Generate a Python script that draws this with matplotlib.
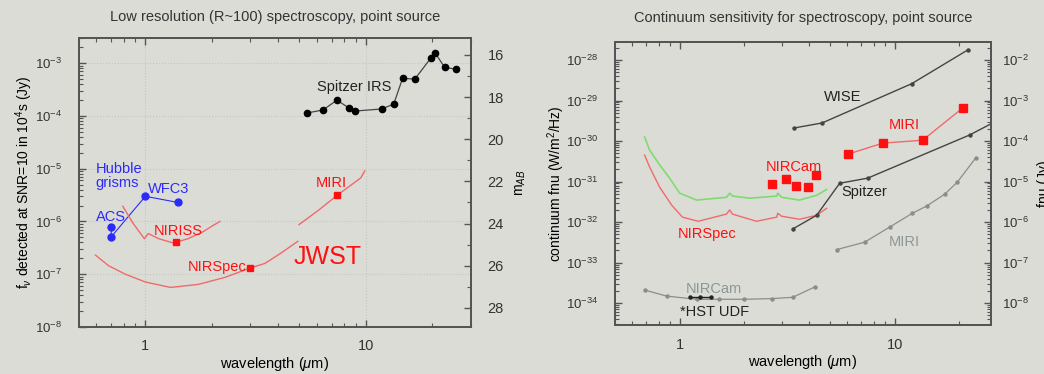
import numpy as np
import matplotlib
matplotlib.use("Agg")
import matplotlib.pyplot as plt
from matplotlib.ticker import LogLocator, MultipleLocator, NullFormatter

# --- DATA: left panel (fnu in Jy vs wavelength in micron) ---
irs_wl = [5.4, 6.4, 7.4, 8.4, 8.9, 11.8, 13.4, 14.7, 16.7, 19.7, 20.7, 22.8, 25.8]
irs_f = [1.14e-4, 1.30e-4, 2.0e-4, 1.42e-4, 1.24e-4, 1.36e-4, 1.68e-4,
         5.2e-4, 5.0e-4, 1.24e-3, 1.55e-3, 8.4e-4, 7.7e-4]

hst_wl = [0.7, 0.7, 1.0, 1.4]
hst_f = [8.0e-7, 5.1e-7, 3.0e-6, 2.3e-6]

nirspec_wl = [0.594, 0.68, 0.81, 1.0, 1.30, 1.74, 2.30, 2.98, 3.49, 4.12, 4.92]
nirspec_f = [2.3e-7, 1.45e-7, 1.0e-7, 7.1e-8, 5.6e-8, 6.4e-8, 8.7e-8,
             1.3e-7, 1.6e-7, 2.5e-7, 4.2e-7]

miri_wl = [4.98, 6.07, 7.47, 9.5, 9.9]
miri_f = [8.7e-7, 1.6e-6, 3.2e-6, 6.7e-6, 9.1e-6]

niriss_wl = [0.79, 0.88, 0.99, 1.03, 1.15, 1.34, 1.56, 1.83, 2.03, 2.18]
niriss_f = [1.94e-6, 9.2e-7, 4.7e-7, 5.9e-7, 4.7e-7, 3.9e-7, 4.7e-7,
            6.4e-7, 8.4e-7, 1.0e-6]

jwst_pts_wl = [1.38, 3.0, 7.4]
jwst_pts_f = [4.1e-7, 1.3e-7, 3.2e-6]

# --- DATA: right panel (fnu in W/m2/Hz) ---
wise_wl = [3.4, 4.6, 12.0, 22.0]
wise_f = [2.1e-30, 2.8e-30, 2.6e-29, 1.8e-28]

miri_phot_wl = [6.1, 8.8, 13.5, 20.7]
miri_phot_f = [4.8e-31, 8.9e-31, 1.05e-30, 6.5e-30]

nircam_phot_wl = [2.68, 3.11, 3.46, 3.94, 4.29]
nircam_phot_f = [8.7e-32, 1.15e-31, 7.7e-32, 7.3e-32, 1.45e-31]

green_wl = [0.687, 0.725, 0.807, 0.898, 1.0, 1.2, 1.65, 1.71, 1.76, 2.12,
            2.83, 2.86, 2.98, 3.61, 4.34, 4.83]
green_f = [1.26e-30, 6.0e-31, 2.6e-31, 1.22e-31, 5.2e-32, 3.5e-32, 4.1e-32,
           5.2e-32, 4.4e-32, 3.9e-32, 4.4e-32, 5.2e-32, 4.1e-32, 3.5e-32,
           4.6e-32, 6.4e-32]

nirspec2_wl = [0.687, 0.725, 0.807, 0.92, 1.03, 1.22, 1.65, 1.71, 1.76, 2.28,
               2.83, 2.86, 2.98, 3.61, 4.34, 4.83]
nirspec2_f = [4.5e-31, 2.3e-31, 7.3e-32, 2.6e-32, 1.33e-32, 1.05e-32, 1.58e-32,
              2.0e-32, 1.58e-32, 1.05e-32, 1.33e-32, 1.66e-32, 1.4e-32,
              1.18e-32, 1.48e-32, 2.2e-32]

spitzer_wl = [3.36, 4.34, 5.55, 7.5, 22.3, 30.0]
spitzer_f = [6.8e-33, 1.48e-32, 9.1e-32, 1.22e-31, 1.41e-30, 3.2e-30]

miri_spec_wl = [5.37, 7.25, 9.5, 12.1, 14.1, 17.1, 19.6, 23.8]
miri_spec_f = [2.1e-33, 3.2e-33, 7.6e-33, 1.66e-32, 2.5e-32, 4.9e-32, 9.8e-32, 3.8e-31]

nircam_wl = [0.69, 0.87, 1.2, 1.53, 2.0, 2.7, 3.36, 4.24]
nircam_f = [2.1e-34, 1.5e-34, 1.25e-34, 1.25e-34, 1.25e-34, 1.3e-34, 1.4e-34, 2.5e-34]

udf_wl = [1.12, 1.25, 1.4]
udf_f = [1.45e-34, 1.45e-34, 1.45e-34]

# --- STYLE ---
bg = '#dcdcd7'
plt.rcParams['font.family'] = ['Liberation Sans', 'DejaVu Sans']
plt.rcParams['mathtext.fontset'] = 'custom'
plt.rcParams['mathtext.rm'] = 'Liberation Sans'
plt.rcParams['mathtext.it'] = 'Liberation Sans:italic'
plt.rcParams['font.size'] = 10
plt.rcParams['axes.edgecolor'] = '#555555'
plt.rcParams['text.color'] = '#333333'
plt.rcParams['xtick.color'] = '#555555'
plt.rcParams['ytick.color'] = '#555555'
plt.rcParams['xtick.labelcolor'] = '#333333'
plt.rcParams['ytick.labelcolor'] = '#333333'

fig = plt.figure(figsize=(10.44, 3.74), dpi=100, facecolor=bg)
ax1 = fig.add_axes([0.0757, 0.126, 0.3753, 0.772], facecolor=bg)
ax2 = fig.add_axes([0.589, 0.131, 0.360, 0.757], facecolor=bg)

red_line = '#f06a6a'
red = '#ff1010'
blue = '#2a2aff'


def style_log(ax, ylo, yhi, xlo, xhi):
    ax.set_xscale('log')
    ax.set_yscale('log')
    ax.set_xlim(xlo, xhi)
    ax.set_ylim(ylo, yhi)
    ax.yaxis.set_major_locator(LogLocator(base=10, numticks=20))
    ax.yaxis.set_minor_locator(LogLocator(base=10, subs=np.arange(2, 10), numticks=20))
    ax.yaxis.set_minor_formatter(NullFormatter())
    ax.xaxis.set_minor_formatter(NullFormatter())
    ax.tick_params(which='both', direction='in', top=True, right=False)
    ax.tick_params(which='major', length=5, width=1)
    ax.tick_params(which='minor', length=3, width=0.8)
    ax.tick_params(axis='y', pad=12, labelsize=9.5)
    ax.tick_params(axis='x', pad=9, labelsize=10.5)
    for s in ax.spines.values():
        s.set_linewidth(1.4)


# ---------------- LEFT PANEL ----------------
style_log(ax1, 1e-8, 3e-3, 0.5, 30)
ax1.set_xticks([1, 10])
ax1.set_xticklabels(['1', '10'])
ax1.grid(which='major', color='#c4c4c0', linestyle=':', linewidth=0.8)

ax1.plot(irs_wl, irs_f, '-', color='#444444', lw=0.9, marker='o', ms=4.5,
         mfc='black', mec='black')
ax1.plot(hst_wl, hst_f, '-', color=blue, lw=0.8, marker='o', ms=5, mfc=blue, mec=blue)
ax1.plot(nirspec_wl, nirspec_f, '-', color=red_line, lw=1.0)
ax1.plot(miri_wl, miri_f, '-', color=red_line, lw=1.0)
ax1.plot(niriss_wl, niriss_f, '-', color=red_line, lw=1.0)
ax1.plot(jwst_pts_wl, jwst_pts_f, 's', color=red, ms=5, ls='none')

ax1.text(8.83, 3.6e-4, 'Spitzer IRS', ha='center', va='center', fontsize=10.5, color='#222222')
ax1.text(0.594, 7.2e-6, 'Hubble\ngrisms', ha='left', va='center', fontsize=10.5,
         color=blue, linespacing=1.0)
ax1.text(1.03, 4.2e-6, 'WFC3', ha='left', va='center', fontsize=10.5, color=blue)
ax1.text(0.594, 1.19e-6, 'ACS', ha='left', va='center', fontsize=10.5, color=blue)
ax1.text(1.41, 6.7e-7, 'NIRISS', ha='center', va='center', fontsize=10.5, color=red)
ax1.text(2.87, 1.39e-7, 'NIRSpec', ha='right', va='center', fontsize=10.5, color=red)
ax1.text(6.95, 5.3e-6, 'MIRI', ha='center', va='center', fontsize=10.5, color=red)
ax1.text(6.73, 2.15e-7, 'JWST', ha='center', va='center', fontsize=18, color=red)

ax1.set_title('Low resolution (R~100) spectroscopy, point source', fontsize=10.5, pad=12)
ax1.set_xlabel('wavelength ($\\mu$m)', fontsize=10.5, labelpad=1)
ax1.set_ylabel('f$_\\nu$ detected at SNR=10 in 10$^4$s (Jy)', fontsize=10, labelpad=0)

# AB magnitude axis
ax1r = ax1.twinx()
ylo, yhi = ax1.get_ylim()
ax1r.set_ylim(-2.5 * np.log10(ylo) + 8.9, -2.5 * np.log10(yhi) + 8.9)
ax1r.yaxis.set_major_locator(MultipleLocator(2))
ax1r.yaxis.set_minor_locator(MultipleLocator(1))
ax1r.tick_params(which='both', direction='in')
ax1r.tick_params(which='major', length=5, width=1)
ax1r.tick_params(which='minor', length=3, width=0.8)
ax1r.tick_params(axis='y', pad=12, labelsize=10.5)
ax1r.set_ylabel('m$_{AB}$', fontsize=10, labelpad=7)
for s in ax1r.spines.values():
    s.set_linewidth(1.4)

# ---------------- RIGHT PANEL ----------------
style_log(ax2, 2.9e-35, 2.8e-28, 0.5, 28)
ax2.set_xticks([1, 10])
ax2.set_xticklabels(['1', '10'])

small = dict(marker='o', ms=2.2)
ax2.plot(wise_wl, wise_f, '-', color='#444444', lw=1.0, mfc='#444444', mec='#444444', **small)
ax2.plot(miri_phot_wl, miri_phot_f, '-', color=red_line, lw=1.0, marker='s', ms=6,
         mfc=red, mec=red)
ax2.plot(nircam_phot_wl, nircam_phot_f, 's', color=red, ms=6, ls='none')
ax2.plot(green_wl, green_f, '-', color='#7ddc6e', lw=1.2)
ax2.plot(nirspec2_wl, nirspec2_f, '-', color=red_line, lw=1.0)
ax2.plot(spitzer_wl, spitzer_f, '-', color='#444444', lw=1.0, mfc='#444444', mec='#444444', **small)
ax2.plot(miri_spec_wl, miri_spec_f, '-', color='#8c8c8c', lw=0.9, mfc='#8c8c8c', mec='#8c8c8c', **small)
ax2.plot(nircam_wl, nircam_f, '-', color='#8c8c8c', lw=0.9, mfc='#8c8c8c', mec='#8c8c8c', **small)
ax2.plot(udf_wl, udf_f, '-', color='#222222', lw=1.0, mfc='#222222', mec='#222222', **small)

ax2.text(5.73, 1.22e-29, 'WISE', ha='center', va='center', fontsize=10.5, color='#222222')
ax2.text(11.1, 2.5e-30, 'MIRI', ha='center', va='center', fontsize=10.5, color=red)
ax2.text(3.39, 2.3e-31, 'NIRCam', ha='center', va='center', fontsize=10.5, color=red)
ax2.text(5.67, 5.5e-32, 'Spitzer', ha='left', va='center', fontsize=10.5, color='#222222')
ax2.text(1.34, 5.0e-33, 'NIRSpec', ha='center', va='center', fontsize=10.5, color=red)
ax2.text(11.1, 3.2e-33, 'MIRI', ha='center', va='center', fontsize=10.5, color='#8a9898')
ax2.text(1.45, 2.3e-34, 'NIRCam', ha='center', va='center', fontsize=10.5, color='#8a9898')
ax2.text(1.45, 6.0e-35, '*HST UDF', ha='center', va='center', fontsize=10.5, color='#222222')

ax2.set_title('Continuum sensitivity for spectroscopy, point source', fontsize=10.5, pad=14)
ax2.set_xlabel('wavelength ($\\mu$m)', fontsize=10.5, labelpad=1)
ax2.set_ylabel('continuum fnu (W/m$^2$/Hz)', fontsize=10, labelpad=-0.5)

ax2r = ax2.twinx()
ax2r.set_yscale('log')
ylo, yhi = ax2.get_ylim()
ax2r.set_ylim(ylo * 1e26, yhi * 1e26)
ax2r.yaxis.set_major_locator(LogLocator(base=10, numticks=20))
ax2r.yaxis.set_minor_locator(LogLocator(base=10, subs=np.arange(2, 10), numticks=20))
ax2r.yaxis.set_minor_formatter(NullFormatter())
ax2r.tick_params(which='both', direction='in')
ax2r.tick_params(which='major', length=5, width=1)
ax2r.tick_params(which='minor', length=3, width=0.8)
ax2r.tick_params(axis='y', pad=8, labelsize=9.5)
ax2r.set_ylabel('fnu (Jy)', fontsize=10, labelpad=6)
for s in ax2r.spines.values():
    s.set_linewidth(1.4)

fig.savefig('out.png', dpi=100, facecolor=bg)
